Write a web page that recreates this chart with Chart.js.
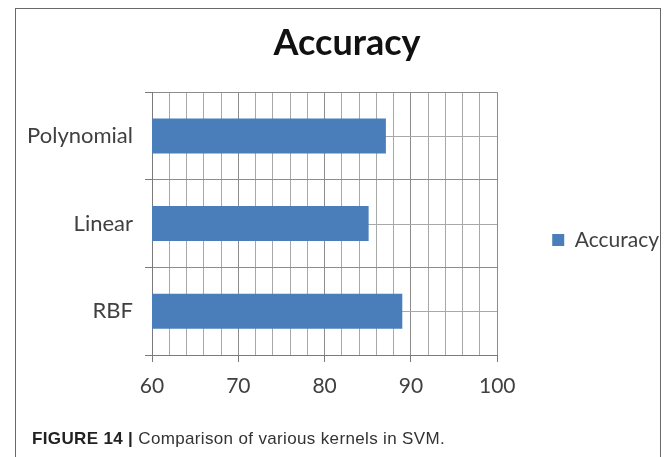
<!DOCTYPE html>
<html>
<head>
<meta charset="utf-8">
<script src="https://cdn.jsdelivr.net/npm/chart.js@4.4.1/dist/chart.umd.min.js"></script>
<style>
  html, body { margin: 0; padding: 0; background: #ffffff; }
  #wrap { position: relative; width: 671px; height: 457px; overflow: hidden; background: #fff; }
  #frame { position: absolute; left: 15px; top: 8px; width: 646px; height: 470px; border: 1.5px solid #6a6a6a; box-sizing: border-box; pointer-events: none; }
  #chartBox { position: absolute; left: 0; top: 0; width: 671px; height: 457px; }
  #caption { position: absolute; left: 32px; top: 429px; font-family: "Liberation Sans", Arial, sans-serif; font-size: 17px; letter-spacing: 0.35px; color: #333; white-space: nowrap; }
  #caption b { font-weight: bold; color: #222; }
</style>
</head>
<body>
<div id="wrap">
  <div id="chartBox"><canvas id="c" width="671" height="457"></canvas></div>
  <div id="frame"></div>
  <div id="caption"><b>FIGURE 14 |</b> Comparison of various kernels in SVM.</div>
</div>
<script>
// ---- data ----
const categories = ["Polynomial", "Linear", "RBF"];
const accuracyValues = [87.1, 85.1, 89.0];
const seriesName = "Accuracy";
const chartTitle = "Accuracy";
const xMin = 60;
const xMax = 100;
const xMinorStep = 2;
const xLabelStep = 10;

const gridMinor = "#a8a8a8";
const gridMajor = "#8c8c8c";
const barColor = "#4a7ebb";

const centerLines = {
  id: "centerLines",
  beforeDatasetsDraw(chart) {
    const y = chart.scales.y;
    const area = chart.chartArea;
    const ctx = chart.ctx;
    ctx.save();
    ctx.strokeStyle = gridMinor;
    ctx.lineWidth = 1;
    categories.forEach((c, i) => {
      const py = Math.round(y.getPixelForValue(i)) + 0.5;
      ctx.beginPath();
      ctx.moveTo(area.left, py);
      ctx.lineTo(area.right, py);
      ctx.stroke();
    });
    ctx.restore();
  }
};

new Chart(document.getElementById("c"), {
  type: "bar",
  data: {
    labels: categories,
    datasets: [{
      label: seriesName,
      data: accuracyValues,
      backgroundColor: barColor,
      borderWidth: 0,
      barPercentage: 0.4,
      categoryPercentage: 1.0
    }]
  },
  options: {
    indexAxis: "y",
    responsive: false,
    animation: false,
    devicePixelRatio: 1,
    layout: { padding: { left: 25, right: 2, top: 0, bottom: 56 } },
    scales: {
      x: {
        min: xMin,
        max: xMax,
        ticks: {
          stepSize: xMinorStep,
          autoSkip: false,
          maxRotation: 0,
          padding: 12,
          color: "#404040",
          font: { family: "Lato", size: 21 },
          callback: (v) => (v % xLabelStep === 0 ? String(v) : "")
        },
        grid: {
          color: (ctx) => (ctx.tick && ctx.tick.value % xLabelStep === 0 ? gridMajor : gridMinor),
          tickColor: (ctx) => (ctx.tick && ctx.tick.value % xLabelStep === 0 ? "#7a7a7a" : "rgba(0,0,0,0)"),
          tickLength: 7,
          lineWidth: 1
        },
        border: { color: "#7a7a7a", width: 1 },
        afterFit(scale) { scale.height = 46; }
      },
      y: {
        offset: true,
        ticks: {
          padding: 12,
          color: "#404040",
          font: { family: "Lato", size: 22 }
        },
        grid: {
          offset: true,
          color: gridMajor,
          tickColor: "#7a7a7a",
          tickLength: 7,
          lineWidth: 1
        },
        border: { color: "#7a7a7a", width: 1 },
        afterFit(scale) { scale.width = 127; }
      }
    },
    plugins: {
      title: {
        display: true,
        text: chartTitle,
        color: "#111",
        font: { family: "Lato", size: 36, weight: "bold" },
        padding: { top: 22, bottom: 27 }
      },
      legend: {
        position: "right",
        fullSize: false,
        align: "center",
        maxWidth: 300,
        title: {
          display: true,
          text: " ",
          font: { family: "Lato", size: 10 },
          padding: { top: 0, bottom: 21 }
        },
        labels: {
          boxWidth: 12,
          boxHeight: 12,
          padding: 55,
          color: "#404040",
          font: { family: "Lato", size: 21 }
        }
      },
      tooltip: { enabled: false }
    }
  },
  plugins: [centerLines]
});
</script>
</body>
</html>
